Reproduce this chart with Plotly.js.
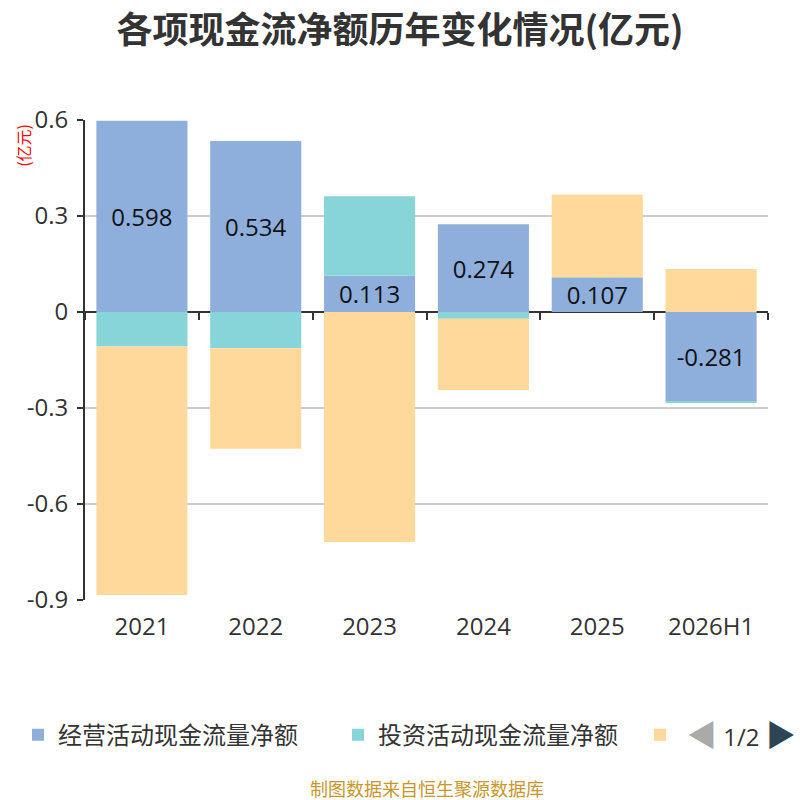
<!DOCTYPE html>
<html>
<head>
<meta charset="utf-8">
<script src="https://cdn.plot.ly/plotly-3.0.1.min.js"></script>
<style>
	html, body { margin: 0; padding: 0; background: #fff; }
	#chart { width: 800px; height: 800px; }
</style>
</head>
<body>
<div id="chart"></div>
<script>
// 各项现金流净额 (亿元)
const years = ["2021", "2022", "2023", "2024", "2025", "2026H1"];
const operating = [0.598, 0.534, 0.113, 0.274, 0.107, -0.281];
const investing = [-0.108, -0.113, 0.249, -0.021, 0.001, -0.003];
const financing = [-0.776, -0.314, -0.719, -0.223, 0.259, 0.134];

const series_names = ["经营活动现金流量净额", "投资活动现金流量净额", "筹资活动现金流量净额"];
const y_ticks = [0.6, 0.3, 0, -0.3, -0.6, -0.9];
const y_tick_text = ["0.6", "0.3", "0", "-0.3", "-0.6", "-0.9"];

const font_cn = "'Noto Sans CJK SC', 'Noto Sans', sans-serif";
const font_num = "'Open Sans', 'Noto Sans CJK SC', sans-serif";

const legend_base = {
	orientation: "h",
	xref: "container",
	yref: "container",
	xanchor: "left",
	y: 0.081,
	yanchor: "middle",
	font: { size: 24, color: "#333", family: font_cn },
	itemclick: false,
	itemdoubleclick: false,
};

let data = [
		{
			x: years,
			y: operating,
			type: "bar",
			name: series_names[0],
			marker: { color: "#8eaedb" },
			text: operating.map(String),
			textposition: "inside",
			insidetextanchor: "middle",
			constraintext: "none",
			textangle: 0,
			textfont: { color: "#111", size: 24, family: font_num },
			hovertemplate: "%{x}<br>" + series_names[0] + ": %{y}<extra></extra>",
		},
		{
			x: years,
			y: investing,
			type: "bar",
			name: series_names[1],
			marker: { color: "#87d5d8" },
			hovertemplate: "%{x}<br>" + series_names[1] + ": %{y}<extra></extra>",
		},
		{
			x: years,
			y: financing,
			type: "bar",
			// legend is paged in the original, only the swatch shows
			name: "",
			legend: "legend2",
			marker: { color: "#ffd99b" },
			hovertemplate: "%{x}<br>" + series_names[2] + ": %{y}<extra></extra>",
		},
		{
			// carries the category labels on the bottom axis
			x: years,
			y: years.map(() => 0),
			xaxis: "x2",
			type: "scatter",
			mode: "none",
			showlegend: false,
			hoverinfo: "skip",
		},
	],
	layout = {
		title: {
			text: "<b>各项现金流净额历年变化情况(亿元)</b>",
			font: { size: 36, color: "#333", family: font_cn },
			x: 0.5,
			xanchor: "center",
			xref: "container",
			y: 0.962,
			yanchor: "middle",
		},
		paper_bgcolor: "#fff",
		plot_bgcolor: "#fff",
		barmode: "relative",
		bargap: 0.2,
		showlegend: true,
		legend: Object.assign({}, legend_base, { x: 0.0225, entrywidth: 275, entrywidthmode: "pixels" }),
		legend2: Object.assign({}, legend_base, { x: 0.8 }),
		margin: { l: 85, r: 32, t: 120, b: 200, pad: 0, autoexpand: false },
		xaxis: {
			type: "category",
			range: [-0.5, 5.5],
			anchor: "free",
			position: 0.6,
			showticklabels: false,
			showgrid: false,
			showline: true,
			linecolor: "#333",
			linewidth: 2,
			ticks: "outside",
			tickson: "boundaries",
			ticklen: 7,
			tickwidth: 2,
			tickcolor: "#333",
			layer: "below traces",
			fixedrange: true,
		},
		xaxis2: {
			type: "category",
			range: [-0.5, 5.5],
			overlaying: "x",
			anchor: "y",
			side: "bottom",
			showline: false,
			showgrid: false,
			ticks: "",
			ticklabelstandoff: 10,
			tickfont: { size: 24, color: "#333", family: font_num },
			fixedrange: true,
		},
		yaxis: {
			type: "linear",
			range: [-0.9, 0.6],
			tickvals: y_ticks,
			ticktext: y_tick_text,
			showgrid: true,
			gridcolor: "#cccccc",
			gridwidth: 1.5,
			zeroline: false,
			showline: true,
			linecolor: "#333",
			linewidth: 2,
			ticks: "outside",
			ticklen: 6,
			tickwidth: 2,
			tickcolor: "#333",
			ticklabelstandoff: 4,
			tickfont: { size: 24, color: "#333", family: font_num },
			layer: "below traces",
			fixedrange: true,
		},
		font: { family: font_cn, color: "#333" },
		annotations: [
			{
				text: "(亿元)",
				xref: "paper",
				yref: "paper",
				x: -0.091,
				y: 0.948,
				xanchor: "center",
				yanchor: "middle",
				textangle: -90,
				showarrow: false,
				font: { size: 16, color: "#ff0000", family: font_cn },
			},
			{
				text: "<span style='color:#aaa;font-size:30px'>◀</span> 1/2 <span style='color:#2f4554;font-size:30px'>▶</span>",
				xref: "paper",
				yref: "paper",
				x: 1.044,
				xanchor: "right",
				y: -0.28,
				yanchor: "middle",
				showarrow: false,
				font: { size: 24, color: "#333", family: font_num },
			},
			{
				text: "制图数据来自恒生聚源数据库",
				xref: "paper",
				yref: "paper",
				x: 0.5,
				xanchor: "center",
				y: -0.392,
				yanchor: "middle",
				showarrow: false,
				font: { size: 18, color: "#c9962a", family: font_cn },
			},
		],
		width: 800,
		height: 800,
	};

Plotly.newPlot("chart", data, layout, { displayModeBar: false });
</script>
</body>
</html>
